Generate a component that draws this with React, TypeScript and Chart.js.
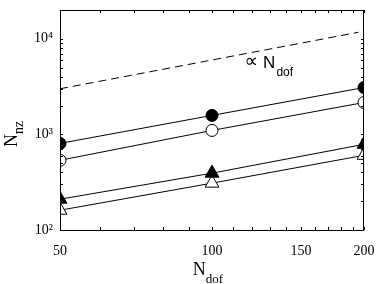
import React, { useEffect, useRef } from "react";
import { Chart, registerables } from "chart.js";

Chart.register(...registerables);

const nDof = [50, 100, 200];
const filledCircle = [805, 1580, 3090];
const openCircle = [536, 1100, 2155];
const filledTriangle = [210, 393, 787];
const openTriangle = [161, 309, 604];
const refLineX = [50, 195];
const refLineY = [3000, 11700];
const xTickValues = [50, 60, 70, 80, 90, 100, 110, 120, 130, 140, 150, 160, 170, 180, 190, 200];
const xTickLabels = [50, 100, 150, 200];
const yTickValues = [100, 200, 300, 400, 500, 600, 700, 800, 900, 1000, 2000, 3000, 4000, 5000, 6000, 7000, 8000, 9000, 10000, 20000];
const yTickLabels: Record<number, string> = { 100: "10²", 1000: "10³", 10000: "10⁴" };
const annotationPos = { x: 116, y: 5000 };

const SERIF = "'Liberation Serif', 'Times New Roman', serif";
const SANS = "'Liberation Sans', Arial, 'DejaVu Sans', sans-serif";

const framePlugin = {
  id: "frame",
  afterDraw(chart: any) {
    const ctx = chart.ctx;
    const { left, right, top, bottom } = chart.chartArea;
    const xs = chart.scales.x;
    const ys = chart.scales.y;
    ctx.save();
    ctx.strokeStyle = "#000";
    ctx.lineWidth = 1;
    ctx.strokeRect(left + 0.5, top + 0.5, right - left - 1, bottom - top);
    ctx.beginPath();
    const tl = 3;
    xTickValues.forEach((v) => {
      const px = Math.round(xs.getPixelForValue(v)) + 0.5;
      ctx.moveTo(px, bottom);
      ctx.lineTo(px, bottom - tl);
      ctx.moveTo(px, top);
      ctx.lineTo(px, top + tl);
    });
    yTickValues.forEach((v) => {
      const py = Math.round(ys.getPixelForValue(v)) + 0.5;
      ctx.moveTo(left, py);
      ctx.lineTo(left + tl, py);
      ctx.moveTo(right, py);
      ctx.lineTo(right - tl, py);
    });
    ctx.stroke();

    ctx.fillStyle = "#000";
    ctx.textBaseline = "alphabetic";
    // x title
    ctx.font = `18px ${SERIF}`;
    const nW = ctx.measureText("N").width;
    ctx.font = `13px ${SERIF}`;
    const dW = ctx.measureText("dof").width;
    const cx = (left + right) / 2 - 4;
    const sx = cx - (nW + dW) / 2;
    ctx.font = `18px ${SERIF}`;
    ctx.fillText("N", sx, 275);
    ctx.font = `13px ${SERIF}`;
    ctx.fillText("dof", sx + nW, 283);

    // y title
    ctx.save();
    ctx.translate(17, 147);
    ctx.rotate(-Math.PI / 2);
    ctx.font = `18px ${SERIF}`;
    const nW2 = ctx.measureText("N").width;
    ctx.fillText("N", 0, 0);
    ctx.font = `14px ${SERIF}`;
    ctx.fillText("nz", nW2, 6);
    ctx.restore();

    // annotation
    const ax = xs.getPixelForValue(annotationPos.x);
    const ay = ys.getPixelForValue(annotationPos.y);
    ctx.font = `19px ${SANS}`;
    ctx.fillText("∝", ax, ay - 1);
    const pW = ctx.measureText("∝").width;
    ctx.font = `17px ${SANS}`;
    ctx.fillText("N", ax + pW + 5, ay);
    const nW3 = ctx.measureText("N").width;
    ctx.font = `12px ${SANS}`;
    ctx.fillText("dof", ax + pW + 6 + nW3, ay + 8);
    ctx.restore();
  },
};

export default function App() {
  const ref = useRef<HTMLCanvasElement | null>(null);
  useEffect(() => {
    document.body.style.margin = "0";
    if (!ref.current) return;
    const mk = (data: number[], style: string, fill: string, r: number) => ({
      data: nDof.map((x, i) => ({ x, y: data[i] })),
      borderColor: "#000",
      borderWidth: 1,
      pointStyle: style,
      pointRadius: r,
      pointBackgroundColor: fill,
      pointBorderColor: "#000",
      pointBorderWidth: 1,
      showLine: true,
      fill: false,
    });
    const chart = new Chart(ref.current, {
      type: "scatter",
      data: {
        datasets: [
          {
            data: refLineX.map((x, i) => ({ x, y: refLineY[i] })),
            borderColor: "#000",
            borderWidth: 1,
            borderDash: [8, 5],
            pointRadius: 0,
            showLine: true,
            fill: false,
          } as any,
          mk(filledCircle, "circle", "#000", 6),
          mk(openCircle, "circle", "#fff", 6),
          mk(filledTriangle, "triangle", "#000", 8),
          mk(openTriangle, "triangle", "#fff", 8),
        ],
      },
      options: {
        responsive: false,
        animation: false,
        events: [],
        layout: { padding: { left: 0, right: 15, top: 10, bottom: 0 } },
        plugins: { legend: { display: false }, tooltip: { enabled: false } },
        scales: {
          x: {
            type: "logarithmic",
            min: 50,
            max: 200,
            afterBuildTicks: (s: any) => {
              s.ticks = xTickValues.map((v) => ({ value: v }));
            },
            afterFit: (s: any) => {
              s.height = 54;
              s.paddingLeft = 0;
              s.paddingRight = 0;
              s.paddingTop = 0;
              s.paddingBottom = 0;
            },
            grid: { display: false, drawTicks: false },
            border: { display: false },
            ticks: {
              autoSkip: false,
              maxRotation: 0,
              padding: 13,
              color: "#000",
              font: { family: SERIF, size: 14 },
              callback: (v: any) => (xTickLabels.includes(Number(v)) ? String(v) : ""),
            },
          },
          y: {
            type: "logarithmic",
            min: 100,
            max: 20000,
            afterBuildTicks: (s: any) => {
              s.ticks = yTickValues.map((v) => ({ value: v }));
            },
            afterFit: (s: any) => {
              s.width = 60;
              s.paddingLeft = 0;
              s.paddingRight = 0;
              s.paddingTop = 0;
              s.paddingBottom = 0;
            },
            grid: { display: false, drawTicks: false },
            border: { display: false },
            ticks: {
              autoSkip: false,
              padding: 7,
              color: "#000",
              font: { family: SERIF, size: 14 },
              callback: (v: any) => yTickLabels[Number(v)] ?? "",
            },
          },
        },
      } as any,
      plugins: [framePlugin],
    });
    return () => chart.destroy();
  }, []);
  return (
    <div style={{ width: 379, height: 284 }}>
      <canvas ref={ref} width={379} height={284} />
    </div>
  );
}
